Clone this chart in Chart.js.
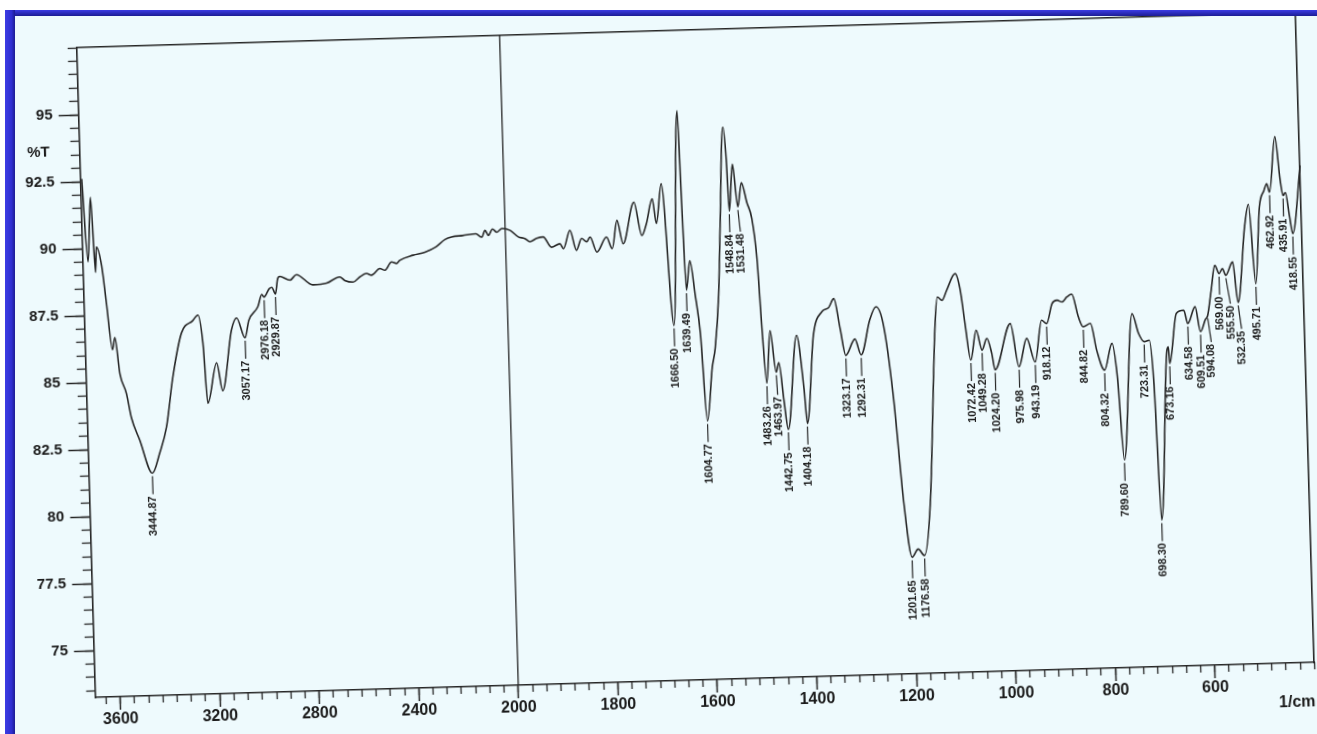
<!DOCTYPE html>
<html>
<head>
<meta charset="utf-8">
<script src="https://cdn.jsdelivr.net/npm/chart.js@4.4.1/dist/chart.umd.min.js"></script>
<style>
  html, body { margin: 0; padding: 0; background: #fff; }
  #page { position: absolute; left: 0; top: 0; width: 1317px; height: 734px; overflow: hidden; background: #fff; }
  #paper { position: absolute; left: 5px; top: 10px; right: 0; bottom: 0; background: #eefafd; }
  #rot { position: absolute; left: 0; top: 0; width: 1317px; height: 734px;
         transform-origin: 695.5px 355px; transform: rotate(-1.65deg); }
  #bandTop { position: absolute; left: 5px; top: 10px; width: 1312px; height: 6px;
             background: linear-gradient(#3c3ce4, #1c1c94); }
  #bandLeft { position: absolute; left: 5px; top: 10px; width: 10px; height: 724px;
              background: linear-gradient(90deg, #3c3ce4, #2e2ed0 65%, #1c1c94); }
</style>
</head>
<body>
<div id="page">
  <div id="paper"></div>
  <div id="rot"><canvas id="irChart" width="1317" height="734"></canvas></div>
  <div id="bandTop"></div>
  <div id="bandLeft"></div>
</div>
<script>
// Spectre IR : transmittance (%T) en fonction du nombre d'onde (1/cm)
const wavenumbers = [
  3695, 3679, 3662, 3650, 3644, 3625, 3610, 3591, 3580, 3564, 3540, 3523, 3492, 3444.87,
  3413, 3383, 3352, 3312, 3265, 3244, 3227, 3214, 3174, 3153, 3111, 3089, 3057.17, 3040,
  3002, 2985, 2976.18, 2955, 2944, 2929.87, 2920, 2911, 2870, 2844, 2779, 2723, 2670, 2650,
  2617, 2589, 2562, 2542, 2508, 2488, 2460, 2440, 2427, 2373, 2325, 2281, 2243, 2216, 2171,
  2118, 2095, 2081, 2068, 2051, 2034, 2013,
  1990, 1974, 1961, 1951, 1937, 1924, 1908, 1891, 1884, 1870, 1858, 1847, 1837, 1830, 1817,
  1797, 1786, 1775, 1764, 1740, 1726, 1716, 1703, 1696, 1684, 1666.50, 1648, 1644, 1639.49,
  1631, 1622, 1614, 1604.77, 1592, 1585, 1575, 1568, 1557, 1552, 1548.84, 1540, 1531.48,
  1523, 1513, 1504, 1496, 1490, 1483.26, 1474, 1463.97, 1458, 1450, 1442.75, 1421, 1409,
  1404.18, 1387, 1369, 1355, 1344, 1333, 1323.17, 1304, 1292.31, 1273, 1260, 1246, 1230,
  1215, 1201.65, 1189, 1176.58, 1162, 1142, 1136, 1127, 1117, 1099, 1090, 1082, 1072.42,
  1060, 1049.28, 1039, 1030, 1024.20, 991, 975.98, 959, 943.19, 928, 918.12, 906, 896, 886,
  876, 866, 854, 844.82, 830, 819, 804.32, 788, 779, 769.6, 746, 734, 723.31, 713, 706,
  698.30, 678, 675, 673.16, 657, 642, 634.58, 619, 609.51, 599, 594.08, 586, 577, 569.00,
  562, 555.50, 541, 532.35, 515, 506, 495.71, 484, 474, 468, 462.92, 449, 441, 435.91, 431,
  424, 418.55, 400
];
const transmittance = [
  92.6, 89.5, 91.9, 89.1, 90.05, 89.35, 87.95, 86.2, 86.65, 85.3, 84.55, 83.65, 82.8, 81.55,
  82.3, 83.25, 85.1, 86.75, 87.2, 87.4, 86.35, 84.1, 85.6, 84.55, 86.8, 87.25, 86.5, 87.15,
  87.65, 88.1, 88.0, 88.3, 88.35, 88.1, 88.65, 88.75, 88.6, 88.8, 88.4, 88.45, 88.67, 88.53,
  88.46, 88.65, 88.77, 88.7, 88.94, 88.87, 89.17, 89.11, 89.22, 89.4, 89.5, 89.68, 89.95, 90.04, 90.08,
  90.13, 90.0, 90.25, 90.06, 90.29, 90.17, 90.3,
  90.22, 89.97, 89.9, 89.78, 89.9, 89.94, 89.55, 89.67, 89.48, 90.16, 89.41, 89.84, 89.71, 89.89, 89.32,
  89.87, 89.43, 90.48, 89.6, 91.14, 89.89, 90.33, 91.25, 90.32, 91.8, 86.5, 94.5, 91.0, 87.8,
  88.9, 87.6, 86.2, 82.9, 84.9, 85.6, 87.6, 90.2, 93.84, 92.65, 90.7, 92.45, 90.85,
  91.75, 91.0, 90.4, 88.9, 86.3, 84.25, 86.2, 84.65, 85.0, 83.6, 82.5, 86.0, 84.0,
  82.7, 86.0, 86.85, 87.0, 87.33, 86.2, 85.2, 85.8, 85.2, 86.5, 86.98, 86.3, 83.6,
  79.6, 77.6, 77.9, 77.65, 79.6, 86.3, 87.28, 87.15, 87.52, 88.13, 87.55, 86.26, 84.89,
  86.0, 85.25, 85.68, 85.12, 84.5, 86.21, 84.59, 85.64, 84.75, 86.3, 86.17, 86.91, 87.03, 86.96,
  87.14, 87.24, 86.39, 86.01, 86.13, 85.12, 84.37, 85.36, 84.1, 81.0, 86.45, 85.7, 85.39, 85.44, 83.83,
  78.72, 85.05, 85.17, 84.55, 86.41, 86.52, 86.02, 86.64, 85.7, 86.15, 86.3, 87.2, 88.16, 87.85,
  88.03, 87.78, 88.27, 86.75, 89.56, 90.4, 87.43, 90.3, 90.9, 91.15, 90.83, 92.9, 91.3, 90.69, 90.8,
  89.9, 89.26, 91.8
];

// Pics annotés (position sur le spectre, texte imprimé)
const peakWavenumbers = [
  3444.87, 3057.17, 2976.18, 2929.87, 1666.50, 1639.49, 1604.77, 1548.84, 1531.48, 1483.26,
  1463.97, 1442.75, 1404.18, 1323.17, 1292.31, 1201.65, 1176.58, 1072.42, 1049.28, 1024.20,
  975.98, 943.19, 918.12, 844.82, 804.32, 769.6, 723.31, 698.30, 673.16, 634.58, 609.51,
  594.08, 569.00, 555.50, 532.35, 495.71, 462.92, 435.91, 418.55
];
const peakLabels = [
  '3444.87', '3057.17', '2976.18', '2929.87', '1666.50', '1639.49', '1604.77', '1548.84', '1531.48', '1483.26',
  '1463.97', '1442.75', '1404.18', '1323.17', '1292.31', '1201.65', '1176.58', '1072.42', '1049.28', '1024.20',
  '975.98', '943.19', '918.12', '844.82', '804.32', '789.60', '723.31', '698.30', '673.16', '634.58', '609.51',
  '594.08', '569.00', '555.50', '532.35', '495.71', '462.92', '435.91', '418.55'
];

const xMajorTicks = [3600, 3200, 2800, 2400, 2000, 1800, 1600, 1400, 1200, 1000, 800, 600];
const yMajorTicks = [75, 77.5, 80, 82.5, 85, 87.5, 90, 92.5, 95];

const X_LEFT = 3700, X_RIGHT = 400, SPLIT = 2000;
const Y_MIN = 73.25, Y_MAX = 97.5;
const INK = '#262626';
const FONT = '"Liberation Sans", Arial, sans-serif';

// graduations secondaires
const xMinorTicks = [3600 + 400 / 7];
for (let k = 0; k <= 28; k++) xMinorTicks.push(3600 - k * 400 / 7);
for (let k = 1; k <= 56; k++) xMinorTicks.push(2000 - k * 200 / 7);
const yMinorTicks = [];
for (let v = 73.5; v <= 97.5; v += 0.5) yMinorTicks.push(v);

// axe coupé : au-dessus de 2000 l'échelle est comprimée de moitié
function axisPos(w) {
  return w >= SPLIT ? (SPLIT - w) / 2 : SPLIT - w;
}

class SplitScale extends Chart.LinearScale {
  determineDataLimits() {
    this.min = X_RIGHT;
    this.max = X_LEFT;
  }
  getPixelForValue(value) {
    const p0 = axisPos(X_LEFT), p1 = axisPos(X_RIGHT);
    return this.getPixelForDecimal((axisPos(value) - p0) / (p1 - p0));
  }
  getValueForPixel(pixel) {
    const p0 = axisPos(X_LEFT), p1 = axisPos(X_RIGHT);
    const p = p0 + this.getDecimalForPixel(pixel) * (p1 - p0);
    return p < 0 ? SPLIT - 2 * p : SPLIT - p;
  }
}
SplitScale.id = 'split';
SplitScale.defaults = Chart.LinearScale.defaults;
Chart.register(SplitScale);

const peakLabelPlugin = {
  id: 'peakLabels',
  afterDatasetsDraw(chart) {
    const { ctx, scales: { x, y } } = chart;
    ctx.save();
    ctx.font = 'bold 11px ' + FONT;
    ctx.fillStyle = '#1c1c1c';
    ctx.strokeStyle = INK;
    ctx.lineWidth = 1.2;
    const items = peakWavenumbers.map((w, i) => {
      const k = wavenumbers.indexOf(w);
      return { px: x.getPixelForValue(w), py: y.getPixelForValue(transmittance[k]), text: peakLabels[i] };
    }).sort((a, b) => a.px - b.px);
    const placed = [];
    items.forEach(it => {
      const len = ctx.measureText(it.text).width;
      let tx = it.px, lead = 18;
      let top = it.py + lead + 5;
      // décale l'étiquette si elle chevauche la précédente
      placed.forEach(p => {
        if (top < p.bottom + 2 && top + len > p.top - 2 && tx < p.tx + 10.5) tx = p.tx + 10.5;
      });
      if (tx > it.px) {
        lead += Math.min(2 * (tx - it.px), 20);
        top = it.py + lead + 5;
      }
      placed.push({ tx, top, bottom: top + len });
      ctx.beginPath();
      ctx.moveTo(it.px, it.py + 3);
      ctx.lineTo(tx, it.py + 3 + lead);
      ctx.stroke();
      ctx.save();
      ctx.translate(tx, top);
      ctx.rotate(-Math.PI / 2);
      ctx.textAlign = 'right';
      ctx.textBaseline = 'middle';
      ctx.fillText(it.text, 0, 0);
      ctx.restore();
    });
    // unité de l'axe vertical
    ctx.font = 'bold 15px ' + FONT;
    ctx.textAlign = 'right';
    ctx.textBaseline = 'middle';
    ctx.fillText('%T', y.right - 30, y.getPixelForValue(93.62));
    ctx.restore();
  }
};

const tickFontX = { family: FONT, size: 16, weight: 'bold' };
const tickFontY = { family: FONT, size: 15, weight: 'bold' };

new Chart(document.getElementById('irChart'), {
  type: 'line',
  data: {
    datasets: [{
      label: '%T',
      data: wavenumbers.map((w, i) => ({ x: w, y: transmittance[i] })),
      borderColor: INK,
      borderWidth: 1.6,
      pointRadius: 0,
      cubicInterpolationMode: 'monotone',
      xAxisID: 'x',
      yAxisID: 'y'
    }, {
      label: 'séparation',
      data: [{ x: SPLIT, y: Y_MIN }, { x: SPLIT, y: Y_MAX }],
      borderColor: INK,
      borderWidth: 1.3,
      pointRadius: 0,
      tension: 0,
      xAxisID: 'x',
      yAxisID: 'y'
    }]
  },
  options: {
    responsive: false,
    devicePixelRatio: 1,
    animation: false,
    events: [],
    layout: { padding: { top: 30, right: 11.75, left: 0, bottom: 0 } },
    plugins: { legend: { display: false }, tooltip: { enabled: false } },
    scales: {
      x: {
        type: 'split', position: 'bottom', weight: 1,
        afterBuildTicks: s => { s.ticks = xMajorTicks.map(v => ({ value: v })); },
        afterFit: s => { s.height = 54; },
        ticks: { autoSkip: false, maxRotation: 0, padding: 0, color: '#1a1a1a', font: tickFontX,
                 callback: v => String(v) },
        grid: { drawOnChartArea: false, tickLength: 13, tickWidth: 1.5, tickColor: INK },
        border: { display: true, color: INK, width: 1.6 },
        title: { display: true, text: '1/cm', align: 'end', color: '#1a1a1a', font: tickFontX,
                 padding: { top: 0, bottom: 5 } }
      },
      xMinor: {
        type: 'split', position: 'bottom', weight: 0,
        afterBuildTicks: s => { s.ticks = xMinorTicks.map(v => ({ value: v })); },
        afterFit: s => { s.height = 0; },
        ticks: { display: false, autoSkip: false },
        grid: { drawOnChartArea: false, tickLength: 7, tickWidth: 1.3, tickColor: INK },
        border: { display: false }
      },
      xTop: {
        type: 'linear', position: 'top', min: 0, max: 1,
        afterFit: s => { s.height = 0; },
        ticks: { display: false },
        grid: { display: false, drawTicks: false },
        border: { display: true, color: INK, width: 1.6 }
      },
      y: {
        type: 'linear', position: 'left', weight: 1, min: Y_MIN, max: Y_MAX,
        afterBuildTicks: s => { s.ticks = yMajorTicks.map(v => ({ value: v })); },
        afterFit: s => { s.width = 85.75; },
        ticks: { autoSkip: false, padding: 6, color: '#1a1a1a', font: tickFontY,
                 callback: v => String(v) },
        grid: { drawOnChartArea: false, tickLength: 20, tickWidth: 1.5, tickColor: INK },
        border: { display: true, color: INK, width: 1.6 }
      },
      yMinor: {
        type: 'linear', position: 'left', weight: 0, min: Y_MIN, max: Y_MAX,
        afterBuildTicks: s => { s.ticks = yMinorTicks.map(v => ({ value: v })); },
        afterFit: s => { s.width = 0; },
        ticks: { display: false, autoSkip: false },
        grid: { drawOnChartArea: false, tickLength: 9, tickWidth: 1.3, tickColor: INK },
        border: { display: false }
      },
      yRight: {
        type: 'linear', position: 'right', min: 0, max: 1,
        afterFit: s => { s.width = 0; },
        ticks: { display: false },
        grid: { display: false, drawTicks: false },
        border: { display: true, color: INK, width: 1.6 }
      }
    }
  },
  plugins: [peakLabelPlugin]
});
</script>
</body>
</html>
